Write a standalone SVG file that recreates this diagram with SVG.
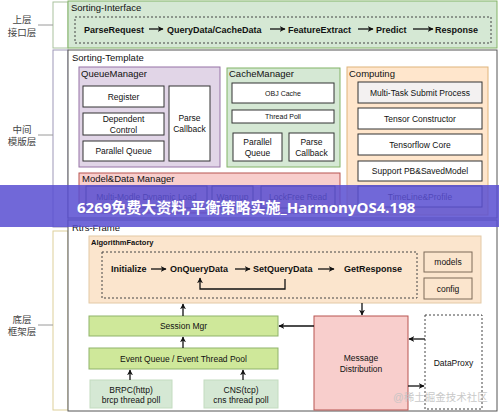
<svg xmlns="http://www.w3.org/2000/svg" width="499" height="414" viewBox="0 0 499 414">
<style>
text{font-family:"Liberation Sans","Noto Sans CJK SC",Arial,sans-serif;fill:#111}
.t{font-size:9.5px}
.b{font-size:8.5px;text-anchor:middle;dominant-baseline:central}
.s{font-size:7px;text-anchor:middle;dominant-baseline:central}
.f{font-size:9px;font-weight:bold;dominant-baseline:central}
.cn{font-size:9.5px;fill:#444;text-anchor:middle;dominant-baseline:central}
.wb{fill:#fff;stroke:#333;stroke-width:1}
.ln{stroke:#111;stroke-width:1.3;fill:none}
.dash{fill:none;stroke:#444;stroke-width:1;stroke-dasharray:2,2}
</style>
<defs>
<marker id="ar" viewBox="0 0 10 10" refX="9" refY="5" markerWidth="6" markerHeight="6" orient="auto-start-reverse" markerUnits="userSpaceOnUse">
<path d="M0,0 L10,5 L0,10 L3,5 z" fill="#111"/>
</marker>
</defs>
<rect width="499" height="414" fill="#fff"/>

<!-- left layer labels -->
<g id="layer-top">
<rect x="53" y="2" width="15" height="46" fill="#fff" stroke="#a9c29e"/>
<line x1="38" y1="25" x2="53" y2="25" stroke="#9a9a9a"/>
<text class="cn" x="22" y="19">上层</text>
<text class="cn" x="22" y="32">接口层</text>
</g>
<g id="layer-mid">
<rect x="53" y="50" width="15" height="177" fill="#fff" stroke="#9d98b8"/>
<line x1="38" y1="135" x2="53" y2="135" stroke="#9a9a9a"/>
<text class="cn" x="22" y="129">中间</text>
<text class="cn" x="22" y="141">模版层</text>
</g>
<g id="layer-bot">
<rect x="53" y="231" width="15" height="179" fill="#fff" stroke="#ddd09a"/>
<line x1="38" y1="325" x2="53" y2="325" stroke="#9a9a9a"/>
<text class="cn" x="22" y="319">底层</text>
<text class="cn" x="22" y="331">框架层</text>
</g>

<!-- Sorting-Interface -->
<g id="sorting-interface">
<rect x="68" y="1" width="429" height="47" fill="#d5e8d4" stroke="#82b366"/>
<text class="t" x="71" y="11">Sorting-Interface</text>
<rect x="75" y="17" width="416" height="26" class="dash"/>
<text class="f" x="84" y="29.5">ParseRequest</text>
<text class="f" x="167" y="29.5">QueryData/CacheData</text>
<text class="f" x="288" y="29.5">FeatureExtract</text>
<text class="f" x="376" y="29.5">Predict</text>
<text class="f" x="435" y="29.5">Response</text>
</g>

<!-- Sorting-Template -->
<g id="sorting-template">
<rect x="68" y="50" width="429" height="168" fill="#fff" stroke="#555"/>
<text class="t" x="72" y="61">Sorting-Template</text>
</g>
<g id="queue-manager">
<rect x="79" y="67" width="141" height="100" fill="#e1d5e7" stroke="#9673a6"/>
<text class="t" x="81" y="77">QueueManager</text>
<rect class="wb" x="83" y="86" width="81" height="21"/>
<text class="b" x="123.5" y="96.5">Register</text>
<rect class="wb" x="83" y="113" width="81" height="22"/>
<text class="b" x="123.5" y="119">Dependent</text>
<text class="b" x="123.5" y="129.5">Control</text>
<rect class="wb" x="83" y="141" width="81" height="20"/>
<text class="b" x="123.5" y="151">Parallel Queue</text>
<rect class="wb" x="169" y="86" width="41" height="75"/>
<text class="b" x="189.5" y="118">Parse</text>
<text class="b" x="189.5" y="129">Callback</text>
</g>
<g id="cache-manager">
<rect x="227" y="68" width="113" height="99" fill="#d5e8d4" stroke="#82b366"/>
<text class="t" x="229" y="77">CacheManager</text>
<rect class="wb" x="232" y="83" width="102" height="20"/>
<text class="s" x="283" y="93">OBJ Cache</text>
<rect class="wb" x="232" y="110" width="102" height="13"/>
<text class="s" x="283" y="116.5">Thread Poll</text>
<rect class="wb" x="233" y="133" width="49" height="28"/>
<text class="b" x="257.5" y="142">Parallel</text>
<text class="b" x="257.5" y="153">Queue</text>
<rect class="wb" x="289" y="133" width="45" height="28"/>
<text class="b" x="311.5" y="142">Parse</text>
<text class="b" x="311.5" y="153">Callback</text>
</g>
<g id="computing">
<rect x="347" y="67" width="141" height="148" fill="#ffe6cc" stroke="#e0b47a"/>
<text class="t" x="349" y="77">Computing</text>
<rect x="358" y="82" width="124" height="21" fill="#f3f1f1" stroke="#333"/>
<text class="b" x="420" y="92.5">Multi-Task Submit Process</text>
<rect class="wb" x="358" y="108" width="124" height="21"/>
<text class="b" x="420" y="118.5">Tensor Constructor</text>
<rect class="wb" x="358" y="134" width="124" height="21"/>
<text class="b" x="420" y="144.5">Tensorflow Core</text>
<rect class="wb" x="358" y="161" width="124" height="20"/>
<text class="b" x="420" y="171">Support PB&amp;SavedModel</text>
<rect class="wb" x="358" y="186" width="124" height="21"/>
<text class="b" x="420" y="196.5">TimeLine&amp;Profile</text>
</g>
<g id="model-data-manager">
<rect x="79" y="173" width="261" height="40" fill="#f8cecc" stroke="#b85450"/>
<text class="t" x="82" y="181.5">Model&amp;Data Manager</text>
<rect x="86" y="186" width="121" height="22" fill="#f8cecc" stroke="#333"/>
<text class="b" x="146.5" y="197">Multi-Modle Dynamic Load</text>
<rect x="212" y="186" width="41" height="22" fill="#f8cecc" stroke="#333"/>
<text class="b" x="232.5" y="197">Warmup</text>
<rect x="261" y="186" width="74" height="22" fill="#f8cecc" stroke="#333"/>
<text class="b" x="298" y="197">LockFree Read</text>
</g>

<!-- Rtrs-Frame -->
<g id="rtrs-frame">
<rect x="68" y="220" width="429" height="191" fill="#fff" stroke="#555"/>
<text class="t" x="72" y="231">Rtrs-Frame</text>
</g>
<g id="algorithm-factory">
<rect x="89" y="236" width="392" height="67" fill="#fbe5cd" stroke="#e3c9a6"/>
<text x="91" y="245" style="font-size:7.5px;font-weight:bold">AlgorithmFactory</text>
<rect x="102" y="252" width="315" height="46" class="dash"/>
<text class="f" x="111" y="269">Initialize</text>
<text class="f" x="170" y="269">OnQueryData</text>
<text class="f" x="253" y="269">SetQueryData</text>
<text class="f" x="344" y="269">GetResponse</text>
</g>
<g id="models">
<rect x="424" y="252" width="48" height="20" fill="#fbe5cd" stroke="#7d6a58"/>
<text class="b" x="448" y="262">models</text>
</g>
<g id="config">
<rect x="424" y="278" width="48" height="21" fill="#fbe5cd" stroke="#7d6a58"/>
<text class="b" x="448" y="288.5">config</text>
</g>
<g id="session-mgr">
<rect x="89" y="316" width="189" height="20" fill="#cfe89a" stroke="#8fb36a"/>
<text class="b" x="183.5" y="326">Session Mgr</text>
</g>
<g id="event-queue">
<rect x="89" y="348" width="189" height="21" fill="#cfe89a" stroke="#8fb36a"/>
<text class="b" x="183.5" y="358.5">Event Queue /  Event Thread Pool</text>
</g>
<g id="brpc">
<rect x="90" y="380" width="82" height="28" fill="#d5e8d4" stroke="#c3dcc0"/>
<text class="b" x="131" y="389.5">BRPC(http)</text>
<text class="b" x="131" y="400">brcp thread poll</text>
</g>
<g id="cns">
<rect x="204" y="380" width="74" height="28" fill="#d5e8d4" stroke="#c3dcc0"/>
<text class="b" x="241" y="389.5">CNS(tcp)</text>
<text class="b" x="241" y="400">cns thread poll</text>
</g>
<g id="message-distribution">
<rect x="314" y="316" width="94" height="94" fill="#f8cecc" stroke="#b85450"/>
<text class="b" x="361" y="358">Message</text>
<text class="b" x="361" y="369">Distribution</text>
</g>
<g id="data-proxy">
<rect x="425" y="315" width="57" height="94" fill="#fff" stroke="#444" stroke-dasharray="2,2"/>
<text class="b" x="453.5" y="363">DataProxy</text>
</g>

<!-- connectors -->
<g id="connectors">
<line class="ln" x1="149" y1="29" x2="163" y2="29" marker-end="url(#ar)"/>
<line class="ln" x1="270" y1="29" x2="285" y2="29" marker-end="url(#ar)"/>
<line class="ln" x1="358" y1="29" x2="373" y2="29" marker-end="url(#ar)"/>
<line class="ln" x1="413" y1="29" x2="433" y2="29" marker-end="url(#ar)"/>
<line class="ln" x1="151" y1="269" x2="166" y2="269" marker-end="url(#ar)"/>
<line class="ln" x1="235" y1="269" x2="250" y2="269" marker-end="url(#ar)"/>
<line class="ln" x1="318" y1="269" x2="334" y2="269" marker-end="url(#ar)"/>
<path class="ln" d="M285,279 V289 H200 V278" marker-end="url(#ar)"/>
<line class="ln" x1="362" y1="303" x2="362" y2="315" marker-end="url(#ar)"/>
<line class="ln" x1="183" y1="316" x2="183" y2="304" marker-end="url(#ar)"/>
<line class="ln" x1="183" y1="348" x2="183" y2="337" marker-end="url(#ar)"/>
<line class="ln" x1="130" y1="380" x2="130" y2="370" marker-end="url(#ar)"/>
<line class="ln" x1="243" y1="380" x2="243" y2="370" marker-end="url(#ar)"/>
<line class="ln" x1="314" y1="326" x2="279" y2="326" marker-end="url(#ar)"/>
<line class="ln" x1="425" y1="339" x2="409" y2="339" marker-end="url(#ar)"/>
<line class="ln" x1="408" y1="386" x2="424" y2="386" marker-end="url(#ar)"/>
</g>

<!-- overlay banner and watermark -->
<rect x="0" y="185" width="499" height="42" fill="#5a4fd2" opacity="0.86"/>
<text x="77" y="213" style="font-family:'Open Sans','Noto Sans CJK SC',sans-serif;font-size:15px;font-weight:bold;fill:#fff">6269免费大资料,平衡策略实施_HarmonyOS4.198</text>
<text x="393" y="401" style="font-size:10.5px;fill:#c4c4c4;opacity:0.9">@稀土掘金技术社区</text>
</svg>
